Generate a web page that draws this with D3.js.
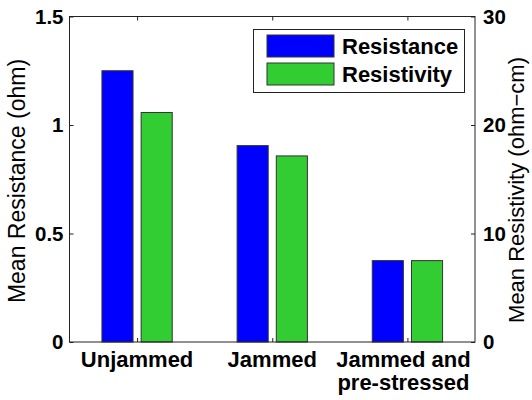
<!DOCTYPE html>
<html>
<head>
<meta charset="utf-8">
<script src="https://cdn.jsdelivr.net/npm/d3@7"></script>
<style>
  html, body { margin: 0; padding: 0; background: #fff; }
  svg { display: block; }
  text { font-family: "Liberation Sans", Arial, Helvetica, sans-serif; fill: #000; }
</style>
</head>
<body>
<svg id="chart" width="532" height="400"></svg>
<script>
const categories = [["Unjammed"], ["Jammed"], ["Jammed and", "pre-stressed"]];
const resistance = [1.25, 0.905, 0.375];      // ohm (left axis)
const resistivity = [21.15, 17.15, 7.5];      // ohm-cm (right axis)
const leftTicks = [0, 0.5, 1, 1.5];
const leftTickLabels = ["0", "0.5", "1", "1.5"];
const rightTicks = [0, 10, 20, 30];
const seriesNames = ["Resistance", "Resistivity"];
const seriesColors = ["#0000ff", "#32cd32"];

const svg = d3.select("#chart");
const L = 69.5, R = 475, T = 16.5, B = 342;

const x = d3.scaleLinear().domain([0.5, 3.5]).range([L, R]);
const yL = d3.scaleLinear().domain([0, 1.5]).range([B, T]);
const yR = d3.scaleLinear().domain([0, 30]).range([B, T]);

const barW = x(0.23) - x(0);
const offs = [-0.145, 0.145];

// bars
svg.append("g").selectAll("rect.res")
  .data(resistance).join("rect")
  .attr("x", (d, i) => x(i + 1 + offs[0]) - barW / 2)
  .attr("y", d => yL(d))
  .attr("width", barW)
  .attr("height", d => B - yL(d))
  .attr("fill", seriesColors[0])
  .attr("stroke", "#333").attr("stroke-width", 1);

svg.append("g").selectAll("rect.rsv")
  .data(resistivity).join("rect")
  .attr("x", (d, i) => x(i + 1 + offs[1]) - barW / 2)
  .attr("y", d => yR(d))
  .attr("width", barW)
  .attr("height", d => B - yR(d))
  .attr("fill", seriesColors[1])
  .attr("stroke", "#333").attr("stroke-width", 1);

// frame
svg.append("rect").attr("x", L).attr("y", T).attr("width", R - L).attr("height", B - T)
  .attr("fill", "none").attr("stroke", "#222").attr("stroke-width", 1);

// axes (inside ticks)
const axLeft = d3.axisLeft(yL).tickValues(leftTicks).tickFormat((d, i) => leftTickLabels[i]).tickSizeInner(-4).tickSizeOuter(0).tickPadding(6);
const gL = svg.append("g").attr("transform", `translate(${L},0)`).call(axLeft);
const axRight = d3.axisRight(yR).tickValues(rightTicks).tickFormat(d3.format("d")).tickSizeInner(-4).tickSizeOuter(0).tickPadding(8);
const gR = svg.append("g").attr("transform", `translate(${R},0)`).call(axRight);
const axBottom = d3.axisBottom(x).tickValues([1, 2, 3]).tickFormat("").tickSizeInner(-4).tickSizeOuter(0);
const gB = svg.append("g").attr("transform", `translate(0,${B})`).call(axBottom);
const axTop = d3.axisTop(x).tickValues([1, 2, 3]).tickFormat("").tickSizeInner(-4).tickSizeOuter(0);
const gT = svg.append("g").attr("transform", `translate(0,${T})`).call(axTop);
[gL, gR, gB, gT].forEach(g => {
  g.select(".domain").remove();
  g.selectAll(".tick line").attr("stroke", "#222");
  g.selectAll("text").attr("font-size", 20.5).attr("font-weight", "bold")
    .attr("font-family", '"Liberation Sans", Arial, sans-serif').attr("fill", "#000");
});

// category labels
const catG = svg.append("g");
categories.forEach((lines, i) => {
  lines.forEach((ln, j) => {
    catG.append("text")
      .attr("x", x(i + 1) - (i === 2 ? 4 : 0))
      .attr("y", 367 + j * 23)
      .attr("text-anchor", "middle")
      .attr("font-size", 22).attr("font-weight", "bold")
      .text(ln);
  });
});

// axis titles
svg.append("text")
  .attr("transform", `translate(25,181) rotate(-90)`)
  .attr("text-anchor", "middle").attr("font-size", 23)
  .text("Mean Resistance (ohm)");
svg.append("text")
  .attr("transform", `translate(524,190) rotate(-90)`)
  .attr("text-anchor", "middle").attr("font-size", 22)
  .text("Mean Resistivity (ohm\u2212cm)");

// legend
const lg = svg.append("g");
lg.append("rect").attr("x", 253.5).attr("y", 29.5).attr("width", 211).attr("height", 63)
  .attr("fill", "#fff").attr("stroke", "#222").attr("stroke-width", 1);
seriesNames.forEach((name, i) => {
  lg.append("rect").attr("x", 267).attr("y", 35 + i * 28).attr("width", 67).attr("height", 22)
    .attr("fill", seriesColors[i]).attr("stroke", "#333").attr("stroke-width", 1);
  lg.append("text").attr("x", 342).attr("y", 54 + i * 28)
    .attr("font-size", 22).attr("font-weight", "bold").text(name);
});
</script>
</body>
</html>
